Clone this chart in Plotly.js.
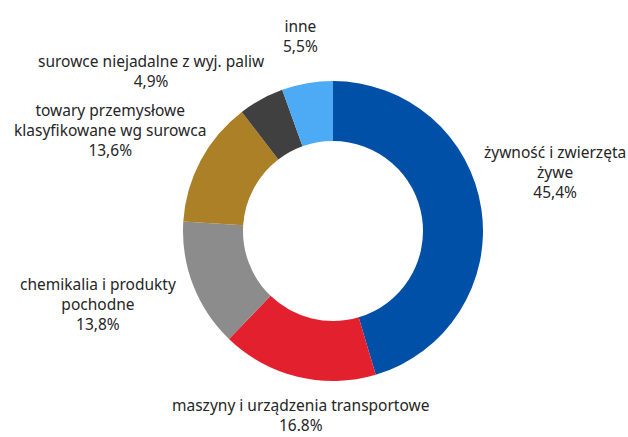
<!DOCTYPE html>
<html>
<head>
<meta charset="utf-8">
<script src="https://cdn.plot.ly/plotly-3.0.1.min.js"></script>
<style>
  body { margin: 0; background: #fff; }
  #plot { width: 628px; height: 437px; }
</style>
</head>
<body>
<div id="plot"></div>
<script>
// categories and shares (%), clockwise from 12 o'clock
var categories = [
  "żywność i zwierzęta<br>żywe",
  "maszyny i urządzenia transportowe",
  "chemikalia i produkty<br>pochodne",
  "towary przemysłowe<br>klasyfikowane wg surowca",
  "surowce niejadalne z wyj. paliw",
  "inne"
];
var shares = [45.4, 16.8, 13.8, 13.6, 4.9, 5.5];
var shareLabels = ["45,4%", "16.8%", "13,8%", "13,6%", "4,9%", "5,5%"];

var colors = ["#0050a8", "#e3202e", "#8c8c8c", "#ab8027", "#404040", "#4daaf5"];

// label centres in pixels (x, y from top)
var labelPos = [[555, 172], [300, 415], [98, 304], [110, 130], [151, 71], [300, 36]];

var W = 628, H = 437;

var trace = {
  type: "pie",
  values: shares,
  labels: categories,
  marker: { colors: colors, line: { width: 0 } },
  hole: 0.6,
  sort: false,
  direction: "clockwise",
  rotation: 0,
  textinfo: "none",
  hoverinfo: "label+value",
  domain: { x: [(333 - 150) / W, (333 + 150) / W], y: [(H - 231 - 150) / H, (H - 231 + 150) / H] }
};

var annotations = categories.map(function (c, i) {
  return {
    xref: "paper", yref: "paper",
    x: labelPos[i][0] / W, y: 1 - labelPos[i][1] / H,
    xanchor: "center", yanchor: "middle",
    text: c + "<br>" + shareLabels[i],
    showarrow: false,
    align: "center",
    borderpad: 0,
    font: { family: "'Noto Sans', sans-serif", size: 15.5, color: "#262626" }
  };
});

var layout = {
  width: W,
  height: H,
  margin: { l: 0, r: 0, t: 0, b: 0 },
  paper_bgcolor: "#ffffff",
  showlegend: false,
  annotations: annotations
};

Plotly.newPlot("plot", [trace], layout, { displayModeBar: false, staticPlot: true });
</script>
</body>
</html>
